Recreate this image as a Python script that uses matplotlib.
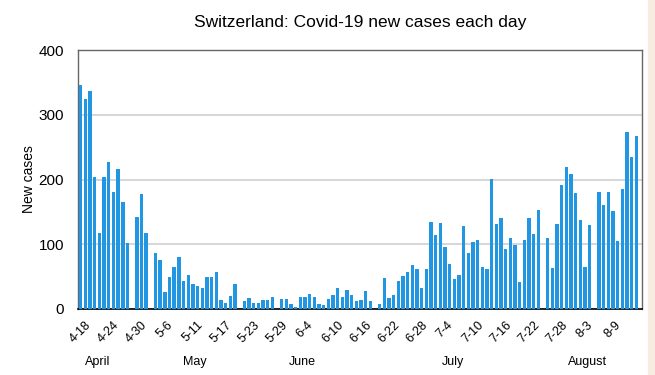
import numpy as np
import matplotlib.pyplot as plt
from matplotlib.patches import Rectangle

# daily new cases (one bar per category, 0 = no report)
cases = [346, 325, 336, 204, 118, 204, 227, 181, 216, 166, 102, 0,
         142, 178, 118, 0, 87, 76, 27, 50, 65, 80, 43, 53,
         38, 36, 32, 49, 49, 57, 14, 9, 20, 39, 0, 12,
         17, 10, 9, 14, 14, 19, 0, 16, 16, 8, 3, 18,
         19, 23, 19, 8, 6, 15, 22, 32, 18, 30, 22, 13,
         14, 28, 12, 0, 7, 48, 17, 21, 43, 51, 57, 68,
         62, 33, 62, 135, 115, 133, 96, 70, 46, 53, 128, 87,
         103, 107, 65, 62, 201, 131, 141, 92, 109, 99, 42, 107,
         140, 116, 153, 0, 109, 63, 131, 192, 219, 209, 179, 137,
         65, 129, 0, 181, 160, 181, 151, 105, 186, 273, 234, 267]

# labels shown on every 6th bar
tick_labels = ['4-18', '4-24', '4-30', '5-6', '5-11', '5-17', '5-23', '5-29',
               '6-4', '6-10', '6-16', '6-22', '6-28', '7-4', '7-10', '7-16',
               '7-22', '7-28', '8-3', '8-9']
months = ['April', 'May', 'June', 'July', 'August']

# layout: where the month names sit (in bar units)
month_x = [3.6, 24.5, 47.5, 79.7, 108.5]
label_step = 6

plt.rcParams['font.family'] = ['Liberation Sans', 'DejaVu Sans']

fig = plt.figure(figsize=(6.55, 3.75), dpi=100)
ax = fig.add_axes([78 / 655, 66 / 375, 564 / 655, 259 / 375])

x = np.arange(len(cases))
ax.bar(x, cases, width=0.72, color='#2196e3', zorder=3)

ax.set_xlim(-0.6, 120.2)
ax.set_ylim(0, 400)
ax.set_yticks([0, 100, 200, 300, 400])
ax.yaxis.grid(True, color='#d0d0d0', linewidth=1.2, zorder=0)

ax.set_xticks(x[::label_step][:len(tick_labels)])
ax.set_xticklabels(tick_labels, rotation=45, ha='center', fontsize=9)
ax.tick_params(axis='x', length=0, pad=7)
ax.tick_params(axis='y', length=0, pad=10, labelsize=11)

for side in ['top', 'left', 'right']:
    ax.spines[side].set_color('#666666')
    ax.spines[side].set_linewidth(1.0)
ax.spines['bottom'].set_color('black')
ax.spines['bottom'].set_linewidth(1.2)

ax.set_ylabel('New cases', fontsize=10, labelpad=2)

# month names under the date labels
for name, mx in zip(months, month_x):
    ax.text(mx, -0.205, name, transform=ax.get_xaxis_transform(),
            ha='center', va='center', fontsize=9)

fig.text(0.55, 0.94, 'Switzerland: Covid-19 new cases each day',
         ha='center', va='center', fontsize=12.5)

# peach strip on the right edge of the picture
fig.patches.append(Rectangle((648 / 655, 0), 7 / 655, 1, transform=fig.transFigure,
                             color='#f8ebe2', zorder=-1))

fig.savefig('out.png', dpi=100)
